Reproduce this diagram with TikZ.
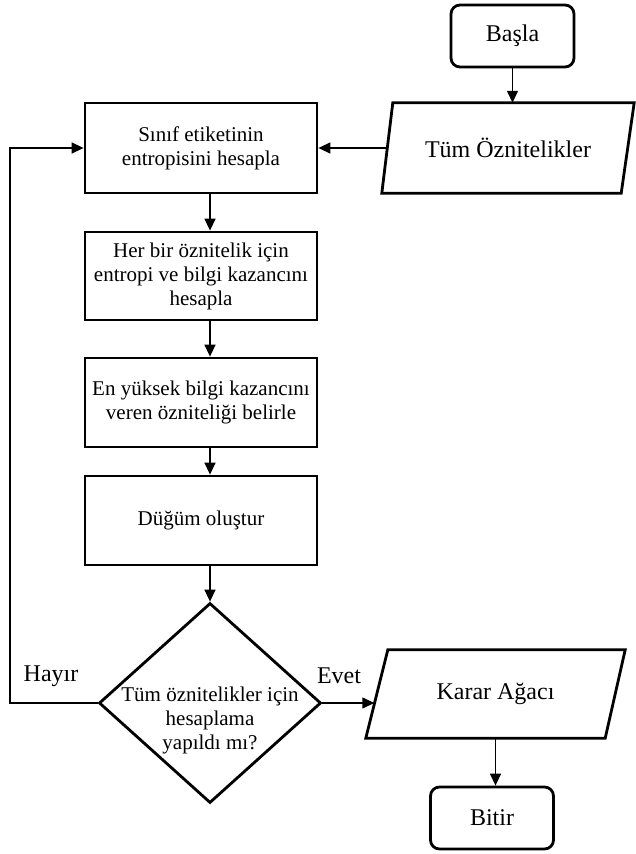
\documentclass[tikz,border=0pt]{standalone}
\usepackage{fontspec}
\setmainfont{Liberation Serif}
\usetikzlibrary{shapes.geometric,arrows.meta,calc}
\begin{document}
\begin{tikzpicture}[x=1pt,y=-1pt,
  shp/.style={line width=2.8pt, line join=miter},
  txtbig/.style={font=\fontsize{24}{27}\selectfont},
  txtsm/.style={font=\fontsize{21}{24}\selectfont},
  stepbox/.style={draw, shp, txtsm, align=center, inner sep=0pt, minimum width=232pt},
  term/.style={draw, shp, txtbig, rounded corners=9pt, inner sep=0pt, minimum width=123pt, minimum height=62pt},
  iobox/.style={txtbig, inner sep=0pt},
  conn/.style={line width=1.4pt, -{Triangle[length=12pt,width=11pt]}}]
\useasboundingbox (0,0) rectangle (635,854);
\fill[white] (0,0) rectangle (635,854);

\node[term] (s) at (512.5,36) {Başla};
\node[iobox, minimum width=252pt, minimum height=90pt] (t) at (508,148) {Tüm Öznitelikler};
\draw[shp] (t.south west) -- ($(t.north west)+(11,0)$) -- (t.north east) -- ($(t.south east)+(-13,0)$) -- cycle;

\node[stepbox, minimum height=90pt] (b1) at (201,148) {Sınıf etiketinin\\entropisini hesapla};
\node[stepbox, minimum height=88pt] (b2) at (201,276) {Her bir öznitelik için\\entropi ve bilgi kazancını\\hesapla};
\node[stepbox, minimum height=89pt] (b3) at (201,402.5) {En yüksek bilgi kazancını\\veren özniteliği belirle};
\node[stepbox, minimum height=89pt] (b4) at (201,520.5) {Düğüm oluştur};

\node[diamond, draw, shp, minimum width=222pt, minimum height=200pt, inner sep=0pt] (d) at (210,703) {};
\node[txtsm, align=center, inner sep=0pt] (dt) at (210,720) {Tüm öznitelikler için\\hesaplama\\yapıldı mı?};

\node[iobox, minimum width=259pt, minimum height=88pt] (k) at (495.5,694) {Karar Ağacı};
\draw[shp] (k.south west) -- ($(k.north west)+(22,0)$) -- (k.north east) -- ($(k.south east)+(-20,0)$) -- cycle;

\node[term] (bt) at (492,818) {Bitir};

\node[txtbig, inner sep=0pt] (no) at (51,676) {Hayır};
\node[txtbig, inner sep=0pt] (yes) at (339,676) {Evet};

\coordinate (lp) at (10,0);
\coordinate (tedge) at ($(t.west)+(5.5,0)$);
\coordinate (kedge) at ($(k.south west)+(8.5,0)$);

\draw[conn] (s.south) -- (s.south |- t.north);
\draw[conn] (tedge) -- (b1.east);
\draw[conn] (b1.south -| d.north) -- (b2.north -| d.north);
\draw[conn] (b2.south -| d.north) -- (b3.north -| d.north);
\draw[conn] (b3.south -| d.north) -- (b4.north -| d.north);
\draw[conn] (b4.south -| d.north) -- (d.north);
\draw[conn] (d.west) -- (d.west -| lp) -- (b1.west -| lp) -- (b1.west);
\draw[conn] (d.east) -- (d.east -| kedge);
\draw[conn] (k.south) -- (k.south |- bt.north);
\end{tikzpicture}
\end{document}
